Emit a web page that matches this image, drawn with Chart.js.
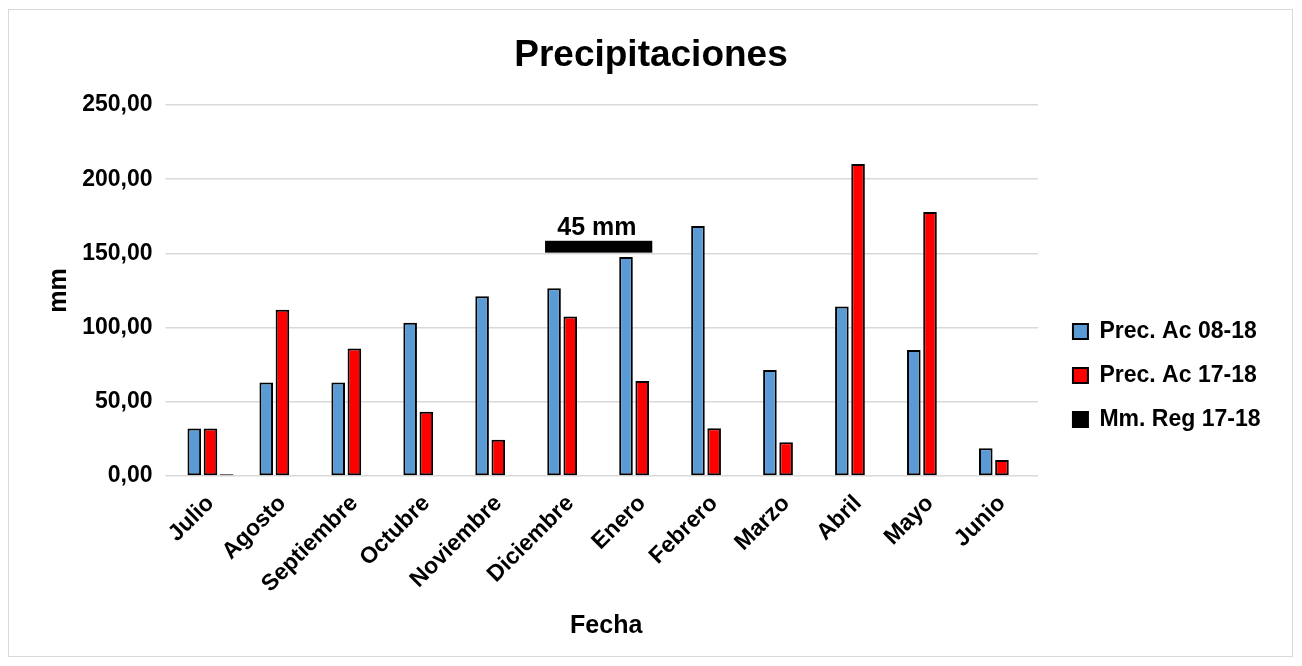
<!DOCTYPE html>
<html>
<head>
<meta charset="utf-8">
<title>Precipitaciones</title>
<script src="https://cdn.jsdelivr.net/npm/chart.js@4/dist/chart.umd.min.js"></script>
<style>
    html, body { margin: 0; padding: 0; background: #fff; }
    #wrap { position: relative; width: 1302px; height: 666px; }
    #frame {
        position: absolute; left: 8px; top: 9px; width: 1283px; height: 646px;
        border: 1.5px solid #d9d9d9; pointer-events: none;
    }
    #chart { position: absolute; left: 0; top: 0; }
</style>
</head>
<body>
<div id="wrap">
    <canvas id="chart" width="1302" height="666"></canvas>
    <div id="frame"></div>
</div>
<script>
// Monthly accumulated rainfall (mm)
const months = ['Julio', 'Agosto', 'Septiembre', 'Octubre', 'Noviembre', 'Diciembre',
    'Enero', 'Febrero', 'Marzo', 'Abril', 'Mayo', 'Junio'];
const precAc0818 = [32, 63, 63, 103.3, 121.1, 126.5, 147.6, 168.5, 71.4, 114.3, 84.9, 18.7];
const precAc1718 = [32, 112, 86, 43.3, 24.5, 107.4, 64, 32.1, 22.7, 210.2, 177.9, 10.8];
const mmReg1718 = [1.2, null, null, null, null, null, null, null, null, null, null, null];
const yTicks = [0, 50, 100, 150, 200, 250];

// marker band over Diciembre / Enero
const bandRange = [150.5, 158.5];
const bandText = '45 mm';

const FONT = "'Liberation Sans', Arial, sans-serif";

function fmtComma(v) {
    return v.toFixed(2).replace('.', ',');
}

// black band with its caption, placed through the chart scales
const bandPlugin = {
    id: 'bandMarker',
    afterDatasetsDraw(chart) {
        const x = chart.scales.x, y = chart.scales.y;
        const ctx = chart.ctx;
        const x0 = x.getPixelForValue(4.65);
        const x1 = x.getPixelForValue(6.14);
        const yTop = y.getPixelForValue(bandRange[1]);
        const yBot = y.getPixelForValue(bandRange[0]);
        ctx.save();
        ctx.fillStyle = '#000';
        ctx.fillRect(x0, yTop, x1 - x0, yBot - yTop);
        ctx.font = 'bold 25px ' + FONT;
        ctx.textAlign = 'center';
        ctx.textBaseline = 'alphabetic';
        ctx.fillText(bandText, x.getPixelForValue(5.37), y.getPixelForValue(162.5));
        ctx.restore();
    }
};

// legend sits a bit right of the plot; title centred on the whole canvas
const layoutNudge = {
    id: 'layoutNudge',
    afterLayout(chart) {
        const lg = chart.legend;
        lg.left += 14;
        lg.right += 14;
        const tb = chart.titleBlock;
        const shift = (chart.width - tb.left - tb.right) / 2;
        tb.left += shift;
        tb.right += shift;
    }
};

new Chart(document.getElementById('chart'), {
    type: 'bar',
    data: {
        labels: months,
        datasets: [{
            label: 'Prec. Ac 08-18',
            data: precAc0818,
            backgroundColor: '#5B9BD5'
        }, {
            label: 'Prec. Ac 17-18',
            data: precAc1718,
            backgroundColor: '#FF0000'
        }, {
            label: 'Mm. Reg 17-18',
            data: mmReg1718,
            backgroundColor: '#000000'
        }]
    },
    options: {
        responsive: false,
        animation: false,
        datasets: {
            bar: {
                borderColor: '#000',
                borderWidth: 2,
                borderSkipped: false,
                categoryPercentage: 0.675,
                barPercentage: 0.84
            }
        },
        layout: {
            padding: { top: 10, right: 45.5, bottom: 20, left: 10 }
        },
        plugins: {
            title: {
                display: true,
                text: 'Precipitaciones',
                color: '#000',
                font: { family: FONT, size: 37, weight: 'bold' },
                padding: { top: 23.8, bottom: 26.8 }
            },
            legend: {
                position: 'right',
                align: 'start',
                fullSize: false,
                title: {
                    display: true,
                    text: '',
                    font: { size: 10 },
                    padding: { top: 182, bottom: 0 }
                },
                labels: {
                    color: '#000',
                    boxWidth: 15,
                    boxHeight: 15,
                    padding: 21,
                    font: { family: FONT, size: 23, weight: 'bold' }
                }
            },
            tooltip: { enabled: false }
        },
        scales: {
            x: {
                grid: { display: false, drawTicks: false },
                border: { display: false },
                ticks: {
                    color: '#000',
                    autoSkip: false,
                    minRotation: 45,
                    maxRotation: 45,
                    padding: 14,
                    font: { family: FONT, size: 23, weight: 'bold' }
                },
                title: {
                    display: true,
                    text: 'Fecha',
                    color: '#000',
                    font: { family: FONT, size: 25, weight: 'bold' },
                    padding: { top: 0, bottom: 5 }
                },
                afterFit(scale) {
                    scale.height = 170;
                }
            },
            y: {
                min: 0,
                max: 250,
                afterBuildTicks(scale) {
                    scale.ticks = yTicks.map(v => ({ value: v }));
                },
                grid: { color: '#d9d9d9', lineWidth: 1.5, tickLength: 9 },
                border: { display: false },
                ticks: {
                    color: '#000',
                    padding: 13,
                    font: { family: FONT, size: 23, weight: 'bold' },
                    callback: v => fmtComma(v)
                },
                title: {
                    display: true,
                    text: 'mm',
                    color: '#000',
                    font: { family: FONT, size: 25, weight: 'bold' },
                    padding: { top: 34, bottom: 0 }
                },
                afterFit(scale) {
                    scale.width = 164.5;
                }
            }
        }
    },
    plugins: [bandPlugin, layoutNudge]
});
</script>
</body>
</html>
